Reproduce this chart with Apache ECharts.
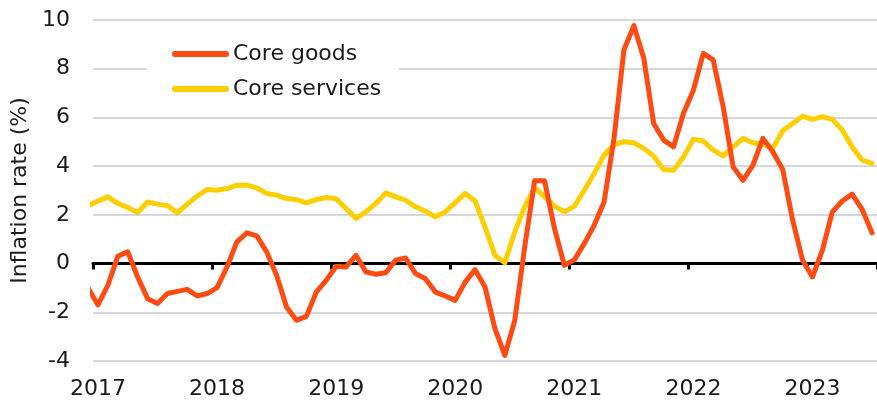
<!DOCTYPE html>
<html>
<head>
<meta charset="utf-8">
<script src="https://cdn.jsdelivr.net/npm/echarts@6/dist/echarts.min.js"></script>
<style>
  html, body { margin: 0; padding: 0; background: #ffffff; }
  #chart { width: 877px; height: 402px; }
</style>
</head>
<body>
<div id="chart"></div>
<script>
// Months (Dec 2016 is a lead-in point clipped at the left edge)
const months = [
  "Dec 2016",
  "Jan 2017","Feb 2017","Mar 2017","Apr 2017","May 2017","Jun 2017","Jul 2017","Aug 2017","Sep 2017","Oct 2017","Nov 2017","Dec 2017",
  "Jan 2018","Feb 2018","Mar 2018","Apr 2018","May 2018","Jun 2018","Jul 2018","Aug 2018","Sep 2018","Oct 2018","Nov 2018","Dec 2018",
  "Jan 2019","Feb 2019","Mar 2019","Apr 2019","May 2019","Jun 2019","Jul 2019","Aug 2019","Sep 2019","Oct 2019","Nov 2019","Dec 2019",
  "Jan 2020","Feb 2020","Mar 2020","Apr 2020","May 2020","Jun 2020","Jul 2020","Aug 2020","Sep 2020","Oct 2020","Nov 2020","Dec 2020",
  "Jan 2021","Feb 2021","Mar 2021","Apr 2021","May 2021","Jun 2021","Jul 2021","Aug 2021","Sep 2021","Oct 2021","Nov 2021","Dec 2021",
  "Jan 2022","Feb 2022","Mar 2022","Apr 2022","May 2022","Jun 2022","Jul 2022","Aug 2022","Sep 2022","Oct 2022","Nov 2022","Dec 2022",
  "Jan 2023","Feb 2023","Mar 2023","Apr 2023","May 2023","Jun 2023","Jul 2023"
];

const coreGoods = [
  -1.0,
  -1.70, -0.89, 0.30, 0.48, -0.55, -1.44, -1.64, -1.23, -1.14, -1.06, -1.33, -1.23,
  -0.99, -0.14, 0.89, 1.26, 1.14, 0.48, -0.48, -1.78, -2.33, -2.17, -1.17, -0.69,
  -0.11, -0.14, 0.34, -0.34, -0.44, -0.38, 0.14, 0.23, -0.41, -0.62, -1.17, -1.33,
  -1.51, -0.76, -0.25, -0.96, -2.67, -3.77, -2.33, 0.68, 3.40, 3.40, 1.44, -0.07,
  0.15, 0.82, 1.57, 2.53, 5.14, 8.77, 9.77, 8.43, 5.75, 5.07, 4.79, 6.17,
  7.12, 8.63, 8.36, 6.44, 3.97, 3.42, 4.04, 5.14, 4.59, 3.86, 1.78, 0.14,
  -0.55, 0.55, 2.12, 2.57, 2.85, 2.23, 1.26
];

const coreServices = [
  2.37,
  2.57, 2.74, 2.47, 2.30, 2.10, 2.53, 2.44, 2.38, 2.08, 2.44, 2.77, 3.04,
  3.01, 3.08, 3.22, 3.22, 3.11, 2.88, 2.81, 2.67, 2.63, 2.49, 2.63, 2.71,
  2.66, 2.26, 1.85, 2.12, 2.47, 2.90, 2.74, 2.60, 2.33, 2.15, 1.92, 2.12,
  2.50, 2.88, 2.57, 1.50, 0.34, 0.03, 1.30, 2.33, 3.12, 2.74, 2.36, 2.12,
  2.35, 3.01, 3.70, 4.45, 4.89, 5.00, 4.96, 4.73, 4.41, 3.86, 3.83, 4.38,
  5.10, 5.03, 4.66, 4.42, 4.79, 5.14, 4.96, 4.90, 4.73, 5.45, 5.75, 6.05,
  5.92, 6.03, 5.92, 5.48, 4.79, 4.25, 4.11
];

const yTicks = [-4, -2, 0, 2, 4, 6, 8, 10];
const seriesNames = ["Core goods", "Core services"];

const FONT = "DejaVu Sans";
const TEXT = "#1a1a1a";
const RED = "#FF4A12";
const YELLOW = "#FFCE00";

// categories shown on the label axis (Jan 2017 .. Jul 2023)
const shownMonths = months.slice(1);
// x value in months from the Jan 2017 boundary; points sit at month centres
const toPairs = (vals) => vals.map((v, i) => [i - 0.5, v]);

const chart = echarts.init(document.getElementById('chart'), null, { renderer: 'canvas' });

chart.setOption({
  animation: false,
  backgroundColor: '#ffffff',
  textStyle: { fontFamily: FONT },
  grid: { left: 93, right: 0, top: 20, bottom: 41, containLabel: false },
  legend: {
    orient: 'vertical',
    left: 147,
    top: 30,
    padding: [13, 18, 10, 25],
    backgroundColor: '#ffffff',
    itemGap: 13,
    itemWidth: 57,
    itemHeight: 6,
    data: [
      { name: seriesNames[0], icon: 'path://M3,0 L54,0 A3,3 0 0 1 54,6 L3,6 A3,3 0 0 1 3,0 Z' },
      { name: seriesNames[1], icon: 'path://M3,0 L54,0 A3,3 0 0 1 54,6 L3,6 A3,3 0 0 1 3,0 Z' }
    ],
    textStyle: { fontFamily: FONT, fontSize: 22, color: TEXT, padding: [0, 0, 0, -1] }
  },
  xAxis: [
    {
      type: 'category',
      data: shownMonths,
      boundaryGap: true,
      position: 'bottom',
      axisLine: { show: false, onZero: false },
      axisTick: { show: false },
      splitLine: { show: false },
      axisLabel: {
        interval: (idx, val) => val.indexOf('Jan') === 0,
        formatter: (val) => val.slice(4),
        fontFamily: FONT,
        fontSize: 22,
        color: TEXT,
        margin: 17
      }
    },
    {
      type: 'value',
      min: 0,
      max: shownMonths.length,
      interval: 12,
      position: 'bottom',
      axisLine: { show: true, onZero: true, lineStyle: { color: '#000000', width: 3 } },
      axisTick: { show: true, length: 6, lineStyle: { color: '#000000', width: 3 } },
      axisLabel: { show: false },
      splitLine: { show: false }
    }
  ],
  yAxis: {
    type: 'value',
    min: yTicks[0],
    max: yTicks[yTicks.length - 1],
    interval: 2,
    name: 'Inflation rate (%)',
    nameLocation: 'middle',
    nameGap: 60,
    nameTextStyle: { fontFamily: FONT, fontSize: 22, color: TEXT },
    axisLine: { show: false },
    axisTick: { show: false },
    axisLabel: { fontFamily: FONT, fontSize: 22, color: TEXT, margin: 23 },
    splitLine: { show: true, lineStyle: { color: '#D6D6DE', width: 2 } }
  },
  series: [
    {
      name: seriesNames[0],
      type: 'line',
      xAxisIndex: 1,
      data: toPairs(coreGoods),
      showSymbol: false,
      symbol: 'none',
      clip: true,
      color: RED,
      lineStyle: { color: RED, width: 5, join: 'round', cap: 'round' },
      z: 3
    },
    {
      name: seriesNames[1],
      type: 'line',
      xAxisIndex: 1,
      data: toPairs(coreServices),
      showSymbol: false,
      symbol: 'none',
      clip: true,
      color: YELLOW,
      lineStyle: { color: YELLOW, width: 5, join: 'round', cap: 'round' },
      z: 2
    }
  ]
});
</script>
</body>
</html>
